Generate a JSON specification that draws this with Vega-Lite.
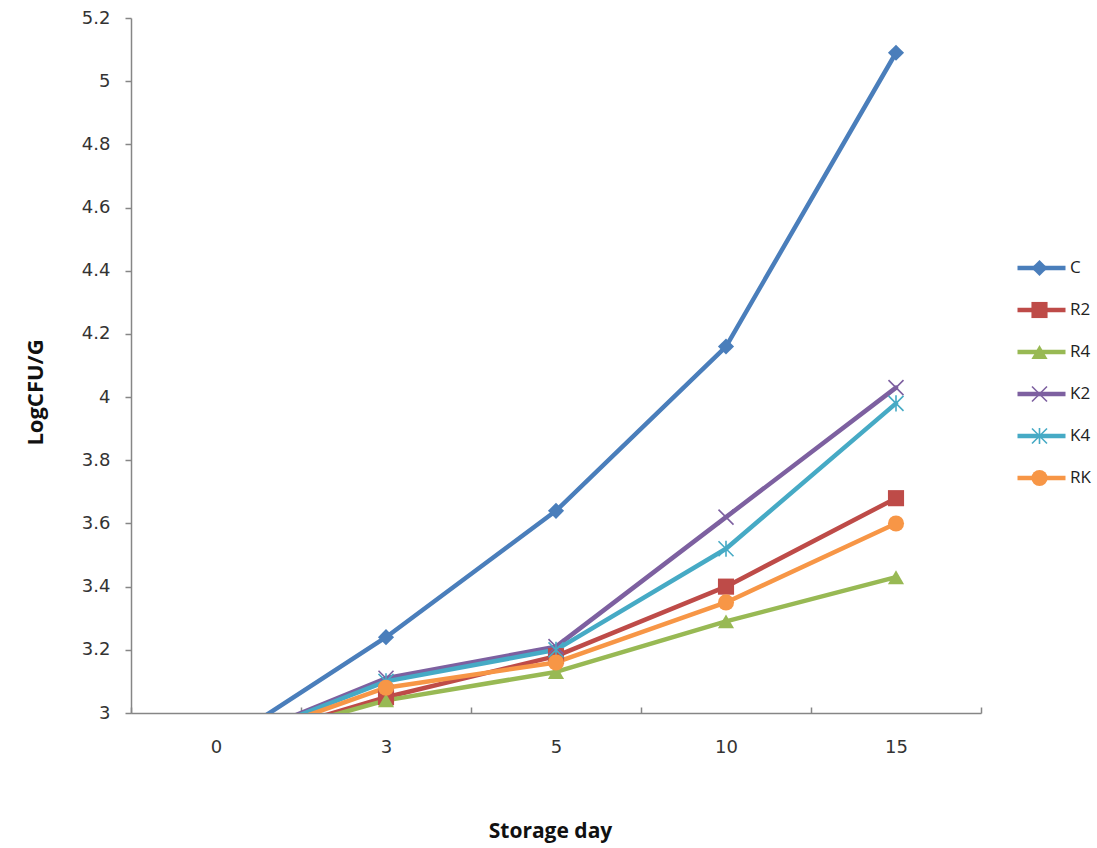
{
  "$schema": "https://vega.github.io/schema/vega-lite/v6.json",
  "width": 850,
  "height": 695,
  "autosize": "none",
  "padding": {"left": 131, "top": 18, "right": 116, "bottom": 135},
  "background": "white",
  "config": {"view": {"stroke": null}, "axis": {"grid": false}},
  "data": {
    "values": [
      {"day": 0, "series": "C", "value": 2.89},
      {"day": 3, "series": "C", "value": 3.24},
      {"day": 5, "series": "C", "value": 3.64},
      {"day": 10, "series": "C", "value": 4.16},
      {"day": 15, "series": "C", "value": 5.09},
      {"day": 0, "series": "R2", "value": 2.89},
      {"day": 3, "series": "R2", "value": 3.05},
      {"day": 5, "series": "R2", "value": 3.18},
      {"day": 10, "series": "R2", "value": 3.40},
      {"day": 15, "series": "R2", "value": 3.68},
      {"day": 0, "series": "R4", "value": 2.89},
      {"day": 3, "series": "R4", "value": 3.04},
      {"day": 5, "series": "R4", "value": 3.13},
      {"day": 10, "series": "R4", "value": 3.29},
      {"day": 15, "series": "R4", "value": 3.43},
      {"day": 0, "series": "K2", "value": 2.89},
      {"day": 3, "series": "K2", "value": 3.11},
      {"day": 5, "series": "K2", "value": 3.21},
      {"day": 10, "series": "K2", "value": 3.62},
      {"day": 15, "series": "K2", "value": 4.03},
      {"day": 0, "series": "K4", "value": 2.89},
      {"day": 3, "series": "K4", "value": 3.10},
      {"day": 5, "series": "K4", "value": 3.20},
      {"day": 10, "series": "K4", "value": 3.52},
      {"day": 15, "series": "K4", "value": 3.98},
      {"day": 0, "series": "RK", "value": 2.89},
      {"day": 3, "series": "RK", "value": 3.08},
      {"day": 5, "series": "RK", "value": 3.16},
      {"day": 10, "series": "RK", "value": 3.35},
      {"day": 15, "series": "RK", "value": 3.60}
    ]
  },
  "encoding": {
    "x": {
      "field": "day",
      "type": "ordinal",
      "scale": {"type": "band", "paddingInner": 0, "paddingOuter": 0},
      "axis": {
        "title": "Storage day",
        "titleFont": "Open Sans",
        "titleFontWeight": "bold",
        "titleFontSize": 21,
        "titleColor": "#111",
        "titleX": 419,
        "titleY": 124,
        "titleBaseline": "alphabetic",
        "titleAlign": "center",
        "labelAngle": 0,
        "labelFont": "DejaVu Sans",
        "labelFontSize": 18,
        "labelColor": "#333",
        "labelPadding": 31,
        "tickBand": "extent",
        "tickSize": -6,
        "tickColor": "#868686",
        "tickWidth": 1.5,
        "domainColor": "#868686",
        "domainWidth": 1.5
      }
    },
    "y": {
      "field": "value",
      "type": "quantitative",
      "scale": {"domain": [3, 5.2], "nice": false, "zero": false},
      "axis": {
        "title": "LogCFU/G",
        "titleFont": "Open Sans",
        "titleFontWeight": "bold",
        "titleFontSize": 22,
        "titleColor": "#111",
        "titleX": -89,
        "titleY": 374,
        "titleBaseline": "alphabetic",
        "titleAlign": "center",
        "titleAngle": -90,
        "values": [3, 3.2, 3.4, 3.6, 3.8, 4, 4.2, 4.4, 4.6, 4.8, 5, 5.2],
        "format": "~g",
        "labelFont": "DejaVu Sans",
        "labelFontSize": 18,
        "labelColor": "#333",
        "labelPadding": 15,
        "tickSize": 6,
        "tickColor": "#868686",
        "tickWidth": 1.5,
        "domainColor": "#868686",
        "domainWidth": 1.5
      }
    }
  },
  "layer": [
    {
      "mark": {"type": "line", "strokeWidth": 4.5, "clip": true, "strokeJoin": "round", "strokeCap": "round"},
      "encoding": {
        "stroke": {
          "field": "series",
          "type": "nominal",
          "sort": ["C", "R2", "R4", "K2", "K4", "RK"],
          "scale": {"range": ["#4A7EBB", "#BE4B48", "#98B954", "#7D60A0", "#46AAC5", "#F79646"]},
          "legend": {
            "orient": "none",
            "legendX": 884,
            "legendY": 229,
            "title": null,
            "symbolType": "stroke",
            "symbolSize": 2304,
            "symbolStrokeWidth": 4.5,
            "clipHeight": 42,
            "rowPadding": 0,
            "padding": 0,
            "labelFont": "Open Sans",
            "labelFontSize": 17,
            "labelColor": "#222",
            "labelOffset": 2
          }
        }
      }
    },
    {
      "mark": {"type": "point", "filled": true, "opacity": 1, "size": 260, "clip": true},
      "encoding": {
        "color": {
          "field": "series",
          "type": "nominal",
          "scale": {"domain": ["C", "R2", "R4", "K2", "K4", "RK"], "range": ["#4A7EBB", "#BE4B48", "#98B954", "#7D60A0", "#46AAC5", "#F79646"]},
          "legend": {
            "orient": "none",
            "legendX": 900,
            "legendY": 229,
            "title": null,
            "symbolSize": 260,
            "symbolStrokeWidth": 0,
            "clipHeight": 42,
            "rowPadding": 0,
            "padding": 0,
            "labelExpr": "''",
            "labelFontSize": 17
          }
        },
        "shape": {
          "field": "series",
          "type": "nominal",
          "scale": {
            "domain": ["C", "R2", "R4", "K2", "K4", "RK"],
            "range": [
              "diamond",
              "square",
              "triangle-up",
              "M-0.86,-1L1,0.86L0.86,1L-1,-0.86ZM0.86,-1L1,-0.86L-0.86,1L-1,0.86Z",
              "M-0.86,-1L1,0.86L0.86,1L-1,-0.86ZM0.86,-1L1,-0.86L-0.86,1L-1,0.86ZM-0.1,-1L0.1,-1L0.1,1L-0.1,1Z",
              "circle"
            ]
          },
          "legend": {
            "orient": "none",
            "legendX": 900,
            "legendY": 229,
            "title": null,
            "symbolSize": 260,
            "symbolStrokeWidth": 0,
            "clipHeight": 42,
            "rowPadding": 0,
            "padding": 0,
            "labelExpr": "''",
            "labelFontSize": 17
          }
        }
      }
    }
  ]
}
